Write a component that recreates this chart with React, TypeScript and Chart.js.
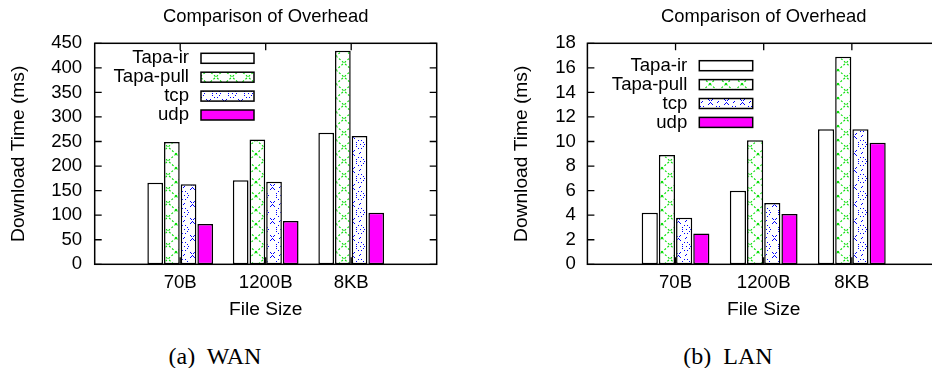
import React, { useEffect, useRef } from 'react';
import { Chart, registerables } from 'chart.js';

Chart.register(...registerables);

// ---------- data ----------
const categories = ['70B', '1200B', '8KB'];
const seriesNames = ['Tapa-ir', 'Tapa-pull', 'tcp', 'udp'];

const wanTapaIr = [166, 171, 268];
const wanTapaPull = [249, 254, 435];
const wanTcp = [163, 168, 261];
const wanUdp = [82, 88, 105];

const lanTapaIr = [4.2, 6.0, 11.0];
const lanTapaPull = [8.9, 10.1, 16.9];
const lanTcp = [3.8, 5.0, 11.0];
const lanUdp = [2.5, 4.1, 9.9];

const wanYMax = 450;
const wanYStep = 50;
const lanYMax = 18;
const lanYStep = 2;

const chartTitle = 'Comparison of Overhead';
const xTitle = 'File Size';
const yTitle = 'Download Time (ms)';
const captions = ['(a)  WAN', '(b)  LAN'];

// ---------- styling ----------
const FONT = '"Liberation Sans", Arial, Helvetica, sans-serif';
const FS = 18.6;
const FS_AXIS = 19.2;
const FS_TITLE = 18.4;

function makePattern(kind: string): any {
  if (kind === 'white') return '#ffffff';
  if (kind === 'magenta') return '#ff00ff';
  const c = document.createElement('canvas');
  const g = c.getContext('2d')!;
  if (kind === 'cross') {
    c.width = 16; c.height = 14;
    g.fillStyle = '#ffffff'; g.fillRect(0, 0, 16, 14);
    g.strokeStyle = '#00dd00'; g.lineWidth = 1.1; g.setLineDash([2, 2]);
    g.beginPath();
    g.moveTo(0, 0); g.lineTo(16, 14);
    g.moveTo(16, 0); g.lineTo(0, 14);
    g.stroke();
  } else {
    c.width = 16; c.height = 17;
    g.fillStyle = '#ffffff'; g.fillRect(0, 0, 16, 17);
    g.fillStyle = '#0000ff';
    const dot = (x: number, y: number) => g.fillRect(Math.round(x), Math.round(y), 1, 1);
    for (let k = 0; k < 10; k++) {
      const a = (k * 2 * Math.PI) / 10;
      dot(7.5 + 4 * Math.cos(a), 8 + 4 * Math.sin(a));
    }
    dot(7.5, 8);
    dot(0, 0); dot(1, 1); dot(15, 1); dot(2, 2); dot(14, 2);
    dot(1, 15); dot(15, 15); dot(2, 14); dot(14, 14);
    dot(7, 0); dot(8, 16);
  }
  return g.createPattern(c, 'repeat');
}

const fillKinds = ['white', 'cross', 'dots', 'magenta'];

type Params = {
  yWidth: number;
  padRight: number;
  yTitlePad: number;
  yTickPad: number;
  legTextDx: number;
  legBoxDx: number;
  legBoxW: number;
  legFirstDy: number;
  legRowH: number;
};

function makeDecor(p: Params, fills: any[]) {
  return {
    id: 'decor',
    beforeDatasetsDraw(chart: any) {
      const { ctx, chartArea: a, scales } = chart;
      ctx.save();
      ctx.strokeStyle = '#000';
      ctx.lineWidth = 1.3;
      ctx.beginPath();
      const t = 7;
      scales.y.ticks.forEach((tk: any) => {
        const py = scales.y.getPixelForValue(tk.value);
        ctx.moveTo(a.left, py); ctx.lineTo(a.left + t, py);
        ctx.moveTo(a.right, py); ctx.lineTo(a.right - t, py);
      });
      for (let i = 1; i <= categories.length; i++) {
        const px = scales.x.getPixelForValue(i);
        ctx.moveTo(px, a.bottom); ctx.lineTo(px, a.bottom - t);
        ctx.moveTo(px, a.top); ctx.lineTo(px, a.top + t);
      }
      ctx.stroke();
      ctx.restore();
    },
    afterDatasetsDraw(chart: any) {
      const { ctx, chartArea: a } = chart;
      ctx.save();
      // frame
      ctx.strokeStyle = '#000';
      ctx.lineWidth = 1.5;
      ctx.strokeRect(a.left, a.top, a.right - a.left, a.bottom - a.top);
      // title
      ctx.fillStyle = '#000';
      ctx.font = `${FS_TITLE}px ${FONT}`;
      ctx.textAlign = 'center';
      ctx.textBaseline = 'middle';
      ctx.fillText(chartTitle, (a.left + a.right) / 2, 17);
      // legend
      ctx.font = `${FS}px ${FONT}`;
      ctx.textAlign = 'right';
      chart.data.datasets.forEach((ds: any, i: number) => {
        const cy = a.top + p.legFirstDy + i * p.legRowH;
        ctx.fillStyle = '#000';
        ctx.fillText(ds.label, a.left + p.legTextDx, cy);
        const bx = a.left + p.legBoxDx;
        const bh = 10;
        ctx.fillStyle = fills[i];
        ctx.fillRect(bx, cy - bh / 2, p.legBoxW, bh);
        ctx.lineWidth = 1.5;
        ctx.strokeStyle = '#000';
        ctx.strokeRect(bx, cy - bh / 2, p.legBoxW, bh);
      });
      ctx.restore();
    },
  };
}

function buildConfig(series: number[][], yMax: number, yStep: number, p: Params): any {
  const fills = fillKinds.map(makePattern);
  const labels = ['', ...categories, ''];
  const font = { family: FONT, size: FS };
  const axisFont = { family: FONT, size: FS_AXIS };
  return {
    type: 'bar',
    data: {
      labels,
      datasets: series.map((vals, i) => ({
        label: seriesNames[i],
        data: [null, ...vals, null],
        backgroundColor: fills[i],
        borderColor: '#000',
        borderWidth: 1.5,
        borderSkipped: false,
        barPercentage: 0.94,
        categoryPercentage: 0.78,
      })),
    },
    options: {
      responsive: false,
      animation: false,
      devicePixelRatio: 1,
      layout: { padding: { left: 0, top: 43.3, right: p.padRight, bottom: 0 } },
      plugins: {
        legend: { display: false },
        tooltip: { enabled: false },
        title: { display: false },
      },
      scales: {
        x: {
          type: 'category',
          offset: false,
          grid: { display: false, drawTicks: false },
          border: { display: false },
          ticks: { color: '#000', font, padding: 7.4, autoSkip: false, maxRotation: 0, minRotation: 0 },
          title: { display: true, text: xTitle, color: '#000', font: axisFont, padding: { top: 0, bottom: 8.9 } },
          afterFit: (s: any) => { s.height = 65.7; },
        },
        y: {
          min: 0,
          max: yMax,
          grid: { display: false, drawTicks: false },
          border: { display: false },
          ticks: { stepSize: yStep, autoSkip: false, color: '#000', font, padding: p.yTickPad },
          title: { display: true, text: yTitle, color: '#000', font: axisFont, padding: { top: p.yTitlePad, bottom: 0 } },
          afterFit: (s: any) => { s.width = p.yWidth; },
        },
      },
    },
    plugins: [makeDecor(p, fills)],
  };
}

function ChartCanvas({ make, width, height }: { make: () => any; width: number; height: number }) {
  const ref = useRef<HTMLCanvasElement>(null);
  useEffect(() => {
    const chart = new Chart(ref.current!, make());
    return () => chart.destroy();
  }, []);
  return <canvas ref={ref} width={width} height={height} style={{ width, height, display: 'block' }} />;
}

const leftParams: Params = {
  yWidth: 94.7, padRight: 33.3, yTitlePad: 6.9, yTickPad: 12.5,
  legTextDx: 94.3, legBoxDx: 106.3, legBoxW: 53, legFirstDy: 15, legRowH: 18.9,
};
const rightParams: Params = {
  yWidth: 117.4, padRight: 10, yTitlePad: 40.6, yTickPad: 11.5,
  legTextDx: 99.9, legBoxDx: 111.9, legBoxW: 53.4, legFirstDy: 22.4, legRowH: 18.9,
};

const captionStyle = (left: number): React.CSSProperties => ({
  position: 'absolute',
  left,
  top: 344,
  width: 200,
  textAlign: 'center',
  fontFamily: '"Liberation Serif", "Times New Roman", serif',
  fontSize: 24,
  lineHeight: '24px',
  whiteSpace: 'pre',
  color: '#000',
});

export default function App() {
  return (
    <div style={{ position: 'fixed', left: 0, top: 0, width: 932, height: 368, overflow: 'hidden', background: '#fff' }}>
      <div style={{ position: 'absolute', left: 0, top: 0 }}>
        <ChartCanvas
          width={470}
          height={330}
          make={() => buildConfig([wanTapaIr, wanTapaPull, wanTcp, wanUdp], wanYMax, wanYStep, leftParams)}
        />
      </div>
      <div style={{ position: 'absolute', left: 470, top: 0 }}>
        <ChartCanvas
          width={480}
          height={330}
          make={() => buildConfig([lanTapaIr, lanTapaPull, lanTcp, lanUdp], lanYMax, lanYStep, rightParams)}
        />
      </div>
      <div style={captionStyle(115)}>{captions[0]}</div>
      <div style={captionStyle(628)}>{captions[1]}</div>
    </div>
  );
}
